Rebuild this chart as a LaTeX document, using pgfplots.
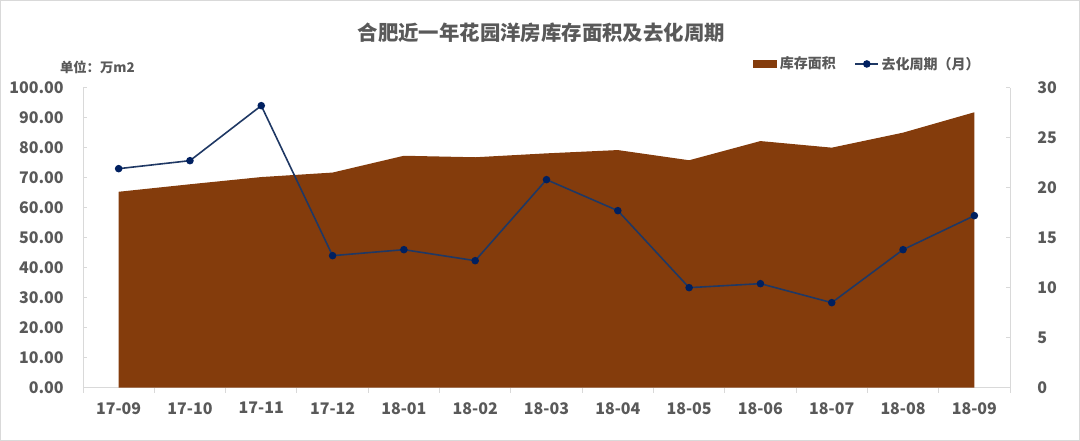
\documentclass[border=0pt]{standalone}
\usepackage{fontspec}
\setmainfont{Noto Sans CJK SC}
\usepackage{pgfplots}
\usepackage{pgfplotstable}
\pgfplotsset{compat=1.18}

\definecolor{stock}{HTML}{843C0C}
\definecolor{cycle}{HTML}{1F3864}
\definecolor{cyclemark}{HTML}{002060}
\definecolor{txt}{HTML}{595959}
\definecolor{axisgray}{HTML}{D9D9D9}

% inventory area (10k m2, left axis) and sell-through cycle (months, right axis)
\pgfplotstableread{
idx area cycle
0  65.3 21.9
1  67.8 22.7
2  70.2 28.2
3  71.7 13.2
4  77.3 13.8
5  76.8 12.7
6  78.1 20.8
7  79.2 17.7
8  75.8 10.0
9  82.2 10.4
10 80.0 8.5
11 85.0 13.8
12 91.8 17.2
}\data

\pgfplotsset{
  base/.style={
    scale only axis, width=695.25pt, height=225pt,
    at={(62.25pt,40pt)}, anchor=south west,
    xmin=-0.5, xmax=12.5,
    tick align=inside, major tick length=3pt, minor tick length=4pt,
    axis line style={axisgray, line width=0.75pt},
    every tick/.style={axisgray, line width=0.75pt},
    ticklabel style={font=\bfseries\fontsize{12}{12}\selectfont, text=txt},
    /pgf/number format/assume math mode=true,
  },
  boxlegend/.style={
    legend image code/.code={\fill[##1] (0pt,-3pt) rectangle (18pt,3pt);}
  }
}

\begin{document}
\begin{tikzpicture}
\path[use as bounding box] (0,0) rectangle (810pt,330.75pt);
\draw[axisgray, line width=0.75pt] (0.4pt,0.4pt) rectangle (809.6pt,330.35pt);

\begin{axis}[base,
  axis x line*=bottom, axis y line*=left,
  ymin=0, ymax=100, ytick={0,10,...,100},
  yticklabel={\pgfmathprintnumber[fixed,fixed zerofill,precision=2]{\tick}},
  yticklabel style={xshift=-11pt},
  xtick={0,...,12},
  xticklabels={17-09,17-10,17-11,17-12,18-01,18-02,18-03,18-04,18-05,18-06,18-07,18-08,18-09},
  major x tick style={draw=none},
  minor xtick={-0.5,0.5,...,12.5},
  minor x tick style={yshift=-4pt},
  xticklabel style={yshift=-7.5pt},
]
\addplot[fill=stock, draw=none] table[x=idx, y=area]{\data} \closedcycle;
\end{axis}

\begin{axis}[base,
  axis y line*=right, axis x line=none,
  ymin=0, ymax=30, ytick={0,5,...,30},
  yticklabel style={xshift=17pt},
  legend style={draw=none, fill=none, inner sep=0pt,
    at={(0.7228,1.079)}, anchor=west, legend columns=-1,
    font=\bfseries\fontsize{10.5}{10.5}\selectfont, text=txt,
    /tikz/every even column/.append style={column sep=12pt}},
]
\addlegendimage{boxlegend, fill=stock, draw=none}
\addlegendentry{库存面积}
\addplot[cycle, line width=1.2pt, mark=*, mark size=2.2pt,
  mark options={fill=cyclemark, draw=cyclemark}]
  table[x=idx, y=cycle]{\data};
\addlegendentry{去化周期（月）}
\end{axis}

\node[font=\bfseries\fontsize{15.3}{15.3}\selectfont, text=txt] at (406pt,306pt)
  {合肥近一年花园洋房库存面积及去化周期};
\node[font=\bfseries\fontsize{10}{10}\selectfont, text=txt] at (73pt,280.5pt)
  {单位：万m2};
\end{tikzpicture}
\end{document}
